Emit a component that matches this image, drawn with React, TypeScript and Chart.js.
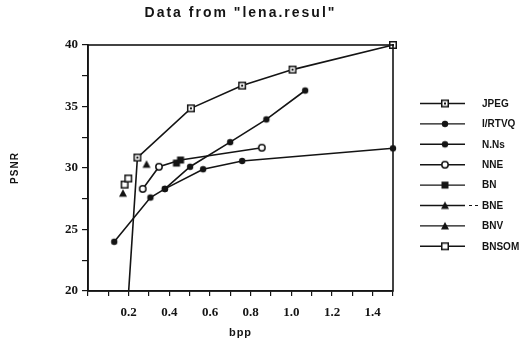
import React, { useEffect, useRef } from 'react';
import { Chart, registerables } from 'chart.js';

Chart.register(...registerables);

const chartTitle = 'Data from "lena.resul"';
const xTitle = 'bpp';
const yTitle = 'PSNR';

const seriesNames = ['JPEG', 'I/RTVQ', 'N.Ns', 'NNE', 'BN', 'BNE', 'BNV', 'BNSOM'];

const jpegX = [0.2, 0.243, 0.506, 0.758, 1.006, 1.5];
const jpegY = [20, 30.85, 34.85, 36.7, 38.0, 40.0];

const irtvqX = [0.129, 0.307, 0.378, 0.566, 0.758, 1.5];
const irtvqY = [24.0, 27.6, 28.3, 29.9, 30.57, 31.6];

const nnsX = [0.378, 0.502, 0.699, 0.877, 1.068];
const nnsY = [28.3, 30.1, 32.1, 33.95, 36.3];

const nneX = [0.269, 0.349, 0.455, 0.855];
const nneY = [28.3, 30.1, 30.65, 31.65];

const bnX = [0.435, 0.455];
const bnY = [30.4, 30.65];

const bneX = [0.172];
const bneY = [27.95];

const bnvX = [0.288];
const bnvY = [30.3];

const bnsomX = [0.18, 0.198];
const bnsomY = [28.65, 29.15];

const xTickLabels = ['0.2', '0.4', '0.6', '0.8', '1.0', '1.2', '1.4'];
const yTickLabels = ['20', '25', '30', '35', '40'];

const INK = '#141414';

function makeMarker(kind: string): HTMLCanvasElement {
  const c = document.createElement('canvas');
  c.width = 10;
  c.height = 10;
  const g = c.getContext('2d') as CanvasRenderingContext2D;
  g.fillStyle = INK;
  g.strokeStyle = INK;
  g.lineWidth = 1.5;
  if (kind === 'sqdot') {
    g.fillStyle = '#fff';
    g.fillRect(1, 1, 8, 8);
    g.strokeRect(1.75, 1.75, 6.5, 6.5);
    g.fillStyle = INK;
    g.fillRect(4, 4, 2, 2);
  } else if (kind === 'dot') {
    g.beginPath();
    g.arc(5, 5, 3.2, 0, Math.PI * 2);
    g.fill();
  } else if (kind === 'ring') {
    g.fillStyle = '#fff';
    g.beginPath();
    g.arc(5, 5, 3.2, 0, Math.PI * 2);
    g.fill();
    g.stroke();
  } else if (kind === 'square') {
    g.fillRect(1.5, 1.5, 7, 7);
  } else if (kind === 'tri') {
    g.beginPath();
    g.moveTo(5, 1);
    g.lineTo(9, 8.5);
    g.lineTo(1, 8.5);
    g.closePath();
    g.fill();
  } else if (kind === 'sq') {
    g.fillStyle = '#fff';
    g.fillRect(1, 1, 8, 8);
    g.strokeRect(1.75, 1.75, 6.5, 6.5);
  }
  return c;
}

function pts(xs: number[], ys: number[]) {
  return xs.map((x, i) => ({ x, y: ys[i] }));
}

export default function App() {
  const ref = useRef<HTMLCanvasElement | null>(null);

  useEffect(() => {
    const canvas = ref.current;
    if (!canvas) return;
    const markerKinds = ['sqdot', 'dot', 'dot', 'ring', 'square', 'tri', 'tri', 'sq'];
    const markers = markerKinds.map(makeMarker);
    const xs = [jpegX, irtvqX, nnsX, nneX, bnX, bneX, bnvX, bnsomX];
    const ys = [jpegY, irtvqY, nnsY, nneY, bnY, bneY, bnvY, bnsomY];

    const datasets = seriesNames.map((name, i) => {
      let radius: any = 4;
      if (i === 0) radius = jpegX.map((_, j) => (j === 0 ? 0 : 4));
      if (i === 3) radius = nneX.map((_, j) => (j === 2 ? 0 : 4));
      return {
        label: name,
        data: pts(xs[i], ys[i]),
        borderColor: INK,
        backgroundColor: INK,
        borderWidth: 1.6,
        pointStyle: markers[i] as any,
        pointRadius: radius,
        showLine: true,
        tension: 0,
        clip: false as any,
      };
    });

    const deco = {
      id: 'deco',
      afterDraw(chart: any) {
        const ctx = chart.ctx as CanvasRenderingContext2D;
        const { left, right, top, bottom } = chart.chartArea;
        ctx.save();
        ctx.strokeStyle = INK;
        ctx.lineWidth = 1.6;
        ctx.strokeRect(left, top, right - left, bottom - top);

        ctx.fillStyle = INK;
        ctx.textAlign = 'center';
        ctx.textBaseline = 'middle';
        ctx.font = 'bold 14px "Liberation Sans", Arial, sans-serif';
        (ctx as any).letterSpacing = '2px';
        ctx.fillText(chartTitle, (left + right) / 2, 13);
        (ctx as any).letterSpacing = '1px';
        ctx.font = 'bold 11px "Liberation Sans", Arial, sans-serif';
        ctx.fillText(xTitle, (left + right) / 2, 333);
        ctx.save();
        ctx.translate(15, (top + bottom) / 2);
        ctx.rotate(-Math.PI / 2);
        ctx.font = 'bold 10px "Liberation Sans", Arial, sans-serif';
        ctx.fillText(yTitle, 0, 0);
        ctx.restore();
        (ctx as any).letterSpacing = '0px';

        // legend
        ctx.textAlign = 'left';
        ctx.font = 'bold 10px "Liberation Sans", Arial, sans-serif';
        seriesNames.forEach((name, i) => {
          const y = 103.5 + i * 20.4;
          ctx.beginPath();
          ctx.lineWidth = 1.4;
          ctx.moveTo(420, y);
          ctx.lineTo(465, y);
          ctx.stroke();
          if (name === 'BNE') {
            ctx.beginPath();
            ctx.lineWidth = 1;
            ctx.moveTo(469, y);
            ctx.lineTo(472, y);
            ctx.moveTo(475, y);
            ctx.lineTo(478, y);
            ctx.stroke();
          }
          const m = markers[i];
          ctx.drawImage(m, 445 - m.width / 2, y - m.height / 2);
          ctx.fillText(name, 482, y + 0.5);
        });
        ctx.restore();
      },
    };

    const chart = new Chart(canvas, {
      type: 'scatter',
      data: { datasets },
      options: {
        animation: false,
        responsive: false,
        devicePixelRatio: 1,
        layout: { padding: { left: 0, top: 45, right: 137, bottom: 0 } },
        plugins: { legend: { display: false }, tooltip: { enabled: false }, title: { display: false } },
        scales: {
          x: {
            type: 'linear',
            min: 0,
            max: 1.5,
            afterFit: (s: any) => {
              s.height = 53;
            },
            border: { display: true, color: INK, width: 1.6 },
            grid: { display: true, drawOnChartArea: false, drawTicks: true, tickLength: 5, color: INK, lineWidth: 1.2 },
            ticks: {
              stepSize: 0.1,
              autoSkip: false,
              maxRotation: 0,
              padding: 9,
              color: INK,
              font: { family: '"Liberation Serif", "Times New Roman", serif', size: 13, weight: 'bold' },
              callback: (v: any) => {
                const l = Number(v).toFixed(1);
                return xTickLabels.includes(l) ? l : '';
              },
            },
          },
          y: {
            type: 'linear',
            min: 20,
            max: 40,
            afterFit: (s: any) => {
              s.width = 88;
            },
            border: { display: true, color: INK, width: 1.6 },
            grid: { display: true, drawOnChartArea: false, drawTicks: true, tickLength: 6, color: INK, lineWidth: 1.2 },
            ticks: {
              stepSize: 2.5,
              autoSkip: false,
              padding: 4,
              color: INK,
              font: { family: '"Liberation Serif", "Times New Roman", serif', size: 13, weight: 'bold' },
              callback: (v: any) => {
                const l = String(Math.round(Number(v) * 10) / 10);
                return yTickLabels.includes(l) ? l : '';
              },
            },
          },
        },
      },
      plugins: [deco],
    } as any);

    return () => chart.destroy();
  }, []);

  return (
    <div style={{ position: 'absolute', left: 0, top: 0, width: 530, height: 344, background: '#fff' }}>
      <canvas ref={ref} width={530} height={344} style={{ width: 530, height: 344, display: 'block' }} />
    </div>
  );
}
